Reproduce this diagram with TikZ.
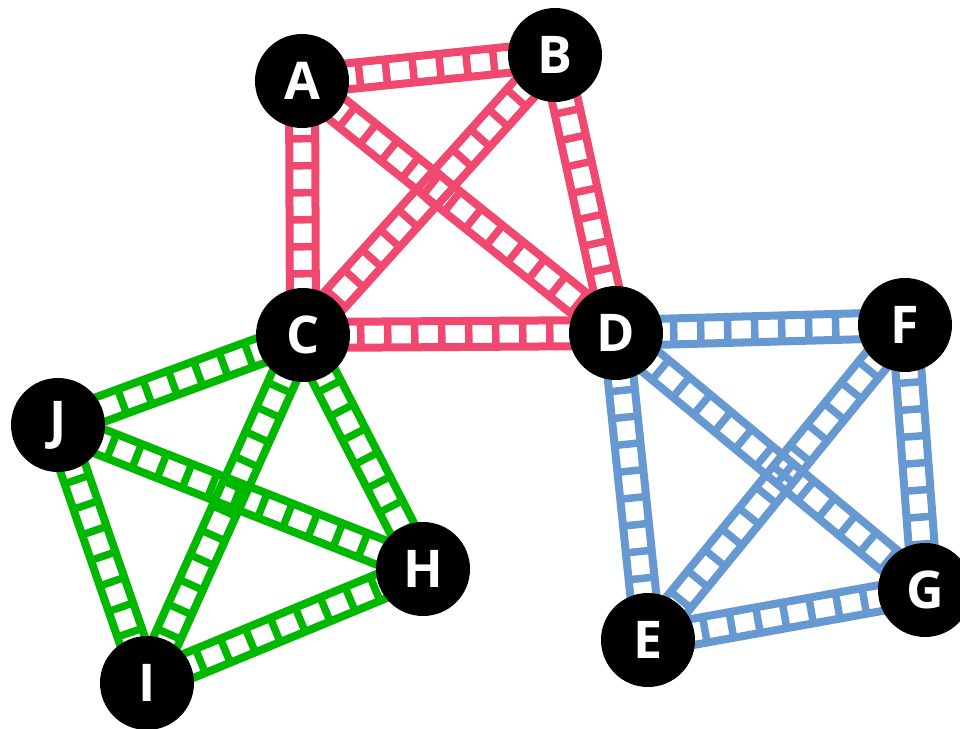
\documentclass[tikz,border=0pt]{standalone}
\usepackage{fontspec}
\newfontfamily\nodefont{Open Sans}
\usetikzlibrary{backgrounds,calc}
\definecolor{rosered}{RGB}{240,72,110}
\definecolor{skyblue}{RGB}{102,153,210}
\definecolor{leafgreen}{RGB}{0,184,0}
\tikzset{
  vertex/.style={circle,fill=black,minimum size=94pt,inner sep=0pt,text=white,
    font=\nodefont\bfseries\fontsize{52}{52}\selectfont},
  rail/.style={draw=#1,line width=8pt},
  rungs/.style={draw=#1,line width=26pt,dash pattern=on 7.5pt off 19.5pt}
}
\begin{document}
\begin{tikzpicture}[x=1pt,y=-1pt]
\useasboundingbox (0,0) rectangle (960,728);
\foreach \n/\x/\y in {A/302/81, B/555/55, C/303/335, D/616/333, E/648/640,
  F/905/325, G/925/590, H/423/569, I/147/683, J/58/425}{
  \node[vertex] (\n) at (\x,\y) {\n};
}
\begin{pgfonlayer}{background}
% each edge: two rails and the rungs between them
\foreach \a/\b/\c in {A/B/rosered, A/C/rosered, B/D/rosered, C/D/rosered,
  B/C/rosered, A/D/rosered, D/F/skyblue, D/E/skyblue, F/G/skyblue,
  E/G/skyblue, D/G/skyblue, F/E/skyblue, C/J/leafgreen, C/H/leafgreen,
  J/I/leafgreen, I/H/leafgreen, J/H/leafgreen, C/I/leafgreen}{
  \draw[rail=\c] ($(\a.center)!13pt!90:(\b.center)$) -- ($(\b.center)!13pt!-90:(\a.center)$)
    ($(\a.center)!13pt!-90:(\b.center)$) -- ($(\b.center)!13pt!90:(\a.center)$);
  \draw[rungs=\c] (\a.center) -- (\b.center);
}
\end{pgfonlayer}
\end{tikzpicture}
\end{document}
